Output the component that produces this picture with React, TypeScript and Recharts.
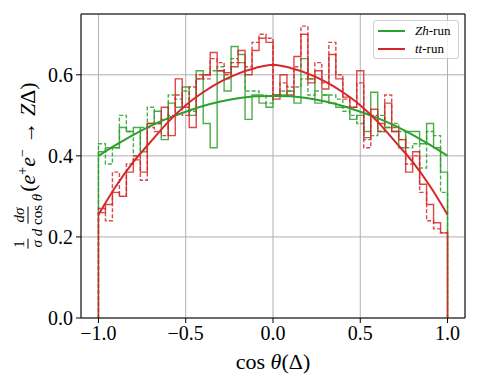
import React from "react";
import {
  CartesianGrid,
  ComposedChart,
  Line,
  ReferenceLine,
  XAxis,
  YAxis,
} from "recharts";

const GREEN = "#2ca02c";
const RED = "#d62728";
const SERIF = "Liberation Serif, DejaVu Serif, serif";

// 50 bins over [-1, 1]
const binEdges = Array.from({ length: 51 }, (_, i) => Number((-1 + i * 0.04).toFixed(2)));

const zhSolid = [
  0.41, 0.42, 0.42, 0.47, 0.46, 0.47, 0.41, 0.48, 0.51, 0.44,
  0.53, 0.52, 0.57, 0.5, 0.61, 0.48, 0.42, 0.61, 0.56, 0.67,
  0.65, 0.49, 0.55, 0.53, 0.52, 0.55, 0.55, 0.56, 0.53, 0.64,
  0.59, 0.53, 0.55, 0.53, 0.52, 0.52, 0.49, 0.5, 0.46, 0.557,
  0.46, 0.47, 0.46, 0.42, 0.46, 0.46, 0.43, 0.48, 0.42, 0.36,
];
const zhDashed = [
  0.43, 0.38, 0.42, 0.5, 0.46, 0.4, 0.47, 0.52, 0.48, 0.49,
  0.55, 0.54, 0.56, 0.51, 0.59, 0.6, 0.61, 0.62, 0.59, 0.64,
  0.63, 0.56, 0.56, 0.55, 0.53, 0.55, 0.56, 0.56, 0.57, 0.59,
  0.55, 0.56, 0.55, 0.55, 0.54, 0.51, 0.5, 0.48, 0.44, 0.45,
  0.5, 0.47, 0.48, 0.46, 0.42, 0.43, 0.37, 0.46, 0.45, 0.31,
];
const ttSolid = [
  0.26, 0.28, 0.31, 0.3, 0.36, 0.39, 0.36, 0.48, 0.48, 0.52,
  0.45, 0.59, 0.52, 0.47, 0.59, 0.6, 0.655, 0.61, 0.605, 0.62,
  0.66, 0.6, 0.66, 0.69, 0.68, 0.54, 0.6, 0.55, 0.645, 0.7,
  0.58, 0.61, 0.565, 0.65, 0.59, 0.545, 0.52, 0.61, 0.445, 0.515,
  0.48, 0.53, 0.46, 0.44, 0.36, 0.41, 0.33, 0.28, 0.235, 0.21,
];
const ttDashed = [
  0.27, 0.24, 0.36, 0.3, 0.38, 0.4, 0.34, 0.47, 0.46, 0.45,
  0.5, 0.55, 0.5, 0.57, 0.6, 0.59, 0.64, 0.63, 0.6, 0.63,
  0.63, 0.62, 0.68, 0.7, 0.69, 0.55, 0.58, 0.57, 0.62, 0.72,
  0.59, 0.63, 0.58, 0.68, 0.6, 0.54, 0.52, 0.58, 0.42, 0.5,
  0.46, 0.55, 0.47, 0.44, 0.38, 0.4, 0.31, 0.24, 0.22, 0.21,
];

// fitted curves, read at 0.1 steps
const curveX = [
  -1, -0.9, -0.8, -0.7, -0.6, -0.5, -0.4, -0.3, -0.2, -0.1, 0,
  0.1, 0.2, 0.3, 0.4, 0.5, 0.6, 0.7, 0.8, 0.9, 1,
];
const zhCurve = [
  0.4, 0.427, 0.452, 0.474, 0.493, 0.509, 0.523, 0.534, 0.542, 0.547, 0.548,
  0.547, 0.542, 0.534, 0.523, 0.509, 0.493, 0.474, 0.452, 0.427, 0.4,
];
const ttCurve = [
  0.255, 0.325, 0.385, 0.435, 0.484, 0.525, 0.557, 0.583, 0.603, 0.617, 0.625,
  0.617, 0.603, 0.583, 0.557, 0.525, 0.484, 0.435, 0.385, 0.325, 0.255,
];

const xTicks = [-1, -0.5, 0, 0.5, 1];
const yTicks = [0, 0.2, 0.4, 0.6];

function stepData(values: number[]) {
  const pts = [{ x: binEdges[0], y: 0 }];
  values.forEach((v, i) => pts.push({ x: binEdges[i], y: v }));
  pts.push({ x: binEdges[binEdges.length - 1], y: values[values.length - 1] });
  pts.push({ x: binEdges[binEdges.length - 1], y: 0 });
  return pts;
}

function curveData(values: number[]) {
  return curveX.map((x, i) => ({ x, y: values[i] }));
}

const fmt = (v: number) => v.toFixed(1).replace("-", "\u2212");

function Frac({ top, bottom, size }: { top: React.ReactNode; bottom: React.ReactNode; size: number }) {
  return (
    <span
      style={{
        display: "inline-flex",
        flexDirection: "column",
        alignItems: "center",
        fontSize: size,
        lineHeight: 1.0,
        verticalAlign: "middle",
        margin: "0 1px",
      }}
    >
      <span style={{ borderBottom: "1px solid #000", padding: "0 1px 1px" }}>{top}</span>
      <span style={{ padding: "1px 1px 0" }}>{bottom}</span>
    </span>
  );
}

export default function App() {
  return (
    <div style={{ position: "absolute", left: 0, top: 0, width: 479, height: 387, background: "#fff", fontFamily: SERIF }}>
      <ComposedChart width={479} height={387} margin={{ top: 14, right: 14, left: 0, bottom: 39 }}>
        <CartesianGrid stroke="#b0b0b0" strokeWidth={1} />
        <XAxis
          type="number"
          dataKey="x"
          domain={[-1.1, 1.1]}
          ticks={xTicks}
          tickFormatter={fmt}
          allowDataOverflow
          height={30}
          tickSize={5}
          tickMargin={3}
          stroke="#000"
          tick={{ fill: "#000", fontSize: 20, fontFamily: SERIF }}
        />
        <YAxis
          type="number"
          dataKey="y"
          domain={[0, 0.75]}
          ticks={yTicks}
          tickFormatter={fmt}
          allowDataOverflow
          width={81}
          tickSize={5}
          tickMargin={3}
          stroke="#000"
          tick={{ fill: "#000", fontSize: 20, fontFamily: SERIF }}
        />
        <ReferenceLine x={1.1} stroke="#000" />
        <ReferenceLine y={0.75} stroke="#000" />
        <Line data={stepData(zhSolid)} dataKey="y" type="stepAfter" stroke={GREEN} strokeOpacity={0.85} strokeWidth={1.4} dot={false} isAnimationActive={false} />
        <Line data={stepData(zhDashed)} dataKey="y" type="stepAfter" stroke={GREEN} strokeOpacity={0.85} strokeWidth={1.4} strokeDasharray="4 2" dot={false} isAnimationActive={false} />
        <Line data={stepData(ttSolid)} dataKey="y" type="stepAfter" stroke={RED} strokeOpacity={0.85} strokeWidth={1.4} dot={false} isAnimationActive={false} />
        <Line data={stepData(ttDashed)} dataKey="y" type="stepAfter" stroke={RED} strokeOpacity={0.85} strokeWidth={1.4} strokeDasharray="4 2" dot={false} isAnimationActive={false} />
        <Line data={curveData(zhCurve)} dataKey="y" type="monotone" stroke={GREEN} strokeWidth={2} dot={false} isAnimationActive={false} />
        <Line data={curveData(ttCurve)} dataKey="y" type="monotone" stroke={RED} strokeWidth={2} dot={false} isAnimationActive={false} />
      </ComposedChart>

      {/* legend */}
      <div
        style={{
          position: "absolute",
          left: 373,
          top: 20,
          width: 84,
          height: 37,
          background: "rgba(255,255,255,0.8)",
          border: "1px solid #d0d0d0",
          borderRadius: 3,
          fontSize: 13,
          fontFamily: SERIF,
        }}
      >
        {[
          { color: GREEN, label: <><i>Zh</i>-run</> },
          { color: RED, label: <><i>tt</i>-run</> },
        ].map((e, i) => (
          <div key={i} style={{ position: "absolute", left: 4, top: 3 + i * 18, height: 14, display: "flex", alignItems: "center" }}>
            <span style={{ display: "inline-block", width: 27, height: 2, background: e.color }} />
            <span style={{ marginLeft: 10, whiteSpace: "nowrap" }}>{e.label}</span>
          </div>
        ))}
      </div>

      {/* y label */}
      <div
        style={{
          position: "absolute",
          left: 28,
          top: 166,
          transform: "translate(-50%, -50%) rotate(-90deg)",
          whiteSpace: "nowrap",
          fontSize: 22,
          display: "flex",
          alignItems: "center",
        }}
      >
        <Frac top="1" bottom={<i>σ</i>} size={15} />
        <Frac top={<><i>dσ</i></>} bottom={<><i>d</i> cos <i>θ</i></>} size={15} />
        <span>
          (<i>e</i>
          <sup style={{ fontSize: 14 }}>+</sup>
          <i>e</i>
          <sup style={{ fontSize: 14 }}>−</sup> → <i>Z</i>Δ)
        </span>
      </div>

      {/* x label */}
      <div
        style={{
          position: "absolute",
          left: 273,
          top: 362,
          transform: "translate(-50%, -50%)",
          whiteSpace: "nowrap",
          fontSize: 22,
        }}
      >
        cos <i>θ</i>(Δ)
      </div>
    </div>
  );
}
